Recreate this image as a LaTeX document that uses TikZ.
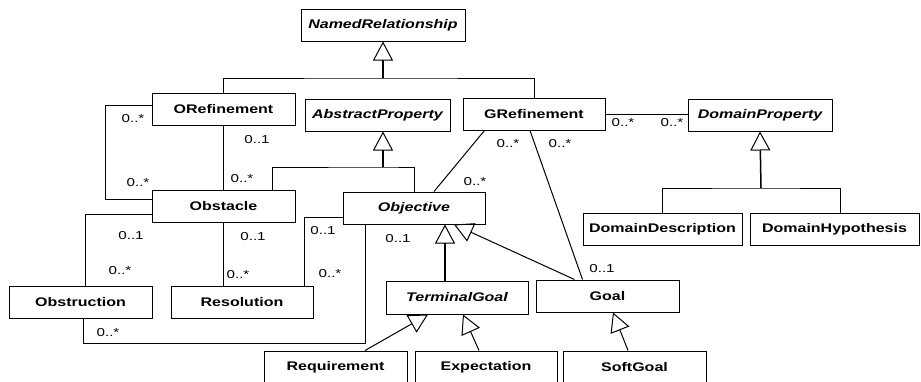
\documentclass[tikz,border=0pt]{standalone}
\usepackage{fontspec}
\usepackage{graphicx}
\setmainfont{Liberation Sans}
\usetikzlibrary{arrows.meta}
% class names and multiplicities are set slightly widened
\newcommand{\clsname}[1]{\scalebox{1.28}[1]{#1}}
\newcommand{\mlt}[1]{\scalebox{1.32}[1]{#1}}

\begin{document}
\begin{tikzpicture}[x=1pt,y=-1pt,
  cls/.style={draw=black, line width=1pt, fill=white, inner sep=0pt,
    minimum height=32pt, font=\fontsize{12.5}{14}\selectfont\bfseries},
  abs/.style={cls, font=\fontsize{12.5}{14}\selectfont\bfseries\itshape},
  lnk/.style={draw=black, line width=1pt},
  inh/.style={lnk, -{Triangle[open, length=19pt, width=20pt, line width=1pt]}},
  stem/.style={inh, line width=1.5pt},
  mult/.style={font=\fontsize{11.5}{13}\selectfont, inner sep=0pt},
]
\path[use as bounding box] (0,0) rectangle (921,381);
\clip (0,0) rectangle (921,381);
\fill[white] (0,0) rectangle (921,381);

% ---- classes ----
\node[abs, minimum width=164pt] (NR) at (383,25)   {\clsname{NamedRelationship}};
\node[cls, minimum width=143pt] (ORef) at (223.5,109) {\clsname{ORefinement}};
\node[abs, minimum width=145pt] (AP) at (377.5,115) {\clsname{AbstractProperty}};
\node[cls, minimum width=142pt] (GRef) at (534,114) {\clsname{GRefinement}};
\node[abs, minimum width=144pt] (DP) at (760,115) {\clsname{DomainProperty}};
\node[cls, minimum width=143pt] (Obstacle) at (223.5,206) {\clsname{Obstacle}};
\node[abs, minimum width=142pt] (Objective) at (414,208) {\clsname{Objective}};
\node[cls, minimum width=159pt] (DD) at (662.5,229) {\clsname{DomainDescription}};
\node[cls, minimum width=169pt] (DH) at (834.5,229) {\clsname{DomainHypothesis}};
\node[cls, minimum width=143pt] (Obstruction) at (80.5,302) {\clsname{Obstruction}};
\node[cls, minimum width=142pt] (Resolution) at (242,302) {\clsname{Resolution}};
\node[abs, minimum width=142pt, minimum height=33pt] (TG) at (457,297.5) {\clsname{TerminalGoal}};
\node[cls, minimum width=143pt] (Goal) at (607.5,296) {\clsname{Goal}};
\node[cls, minimum width=143pt] (Req) at (335.5,367) {\clsname{Requirement}};
\node[cls, minimum width=142pt] (Exp) at (486,367) {\clsname{Expectation}};
\node[cls, minimum width=143pt] (SG) at (634.5,367) {\clsname{SoftGoal}};

% ---- generalisation trunks ----
\coordinate (jNR) at (383,78);
\coordinate (jAP) at (383,167);
\coordinate (jDP) at (761,188);

\draw[stem] (jNR) -- (NR.south);
\draw[lnk] (ORef.north) |- (jNR) -| (GRef.north);

\draw[stem] (jAP) -- (jAP |- AP.south);
\draw[lnk] ([xshift=48.5pt]Obstacle.north) |- (jAP) -| (Objective.north);

\draw[stem] (jDP) -- (DP.south);
\draw[lnk] (DD.north) |- (jDP) -| ([xshift=6pt]DH.north);

\draw[stem] ([xshift=-12pt]TG.north) -- ([xshift=31pt]Objective.south);
\draw[inh] ([xshift=39pt]Goal.north west) -- ([xshift=40pt]Objective.south);
\draw[inh] ([xshift=29.5pt]Req.north) -- ([xshift=-29pt]TG.south);
\draw[inh] ([xshift=-7pt]Exp.north) -- ([xshift=6pt]TG.south);
\draw[inh] ([xshift=-6.5pt]SG.north) -- ([xshift=5.5pt]Goal.south);

% ---- associations ----
\draw[lnk] (ORef.south) -- (Obstacle.north);
\draw[lnk] ([yshift=4pt]ORef.west) -- ++(-46,0) |- ([yshift=7pt]Obstacle.west);
\draw[lnk] ([yshift=-8pt]Obstacle.west) -| ([xshift=4.5pt]Obstruction.north);
\draw[lnk] (Obstacle.south) -- (Obstacle.south |- Resolution.north);
\draw[lnk] ([yshift=-9pt]Objective.west) -| ([xshift=62pt]Resolution.north);
\draw[lnk] ([xshift=-49pt]Objective.south) -- ++(0,119) -| ([xshift=2.5pt]Obstruction.south);
\draw[lnk] ([xshift=22pt]GRef.south west) -- ([xshift=20pt]Objective.north);
\draw[lnk] ([xshift=-4pt]GRef.south) -- ([xshift=47pt]Goal.north west);
\draw[lnk] (GRef.east) -- (GRef.east -| DP.west);

% ---- multiplicities ----
\node[mult] (m1)  at (133,119) {\mlt{0..*}};
\node[mult] (m2)  at (138,183) {\mlt{0..*}};
\node[mult] (m3)  at (257,140) {\mlt{0..1}};
\node[mult] (m4)  at (242,179) {\mlt{0..*}};
\node[mult] (m5)  at (131,236) {\mlt{0..1}};
\node[mult] (m6)  at (120,271) {\mlt{0..*}};
\node[mult] (m7)  at (253,237) {\mlt{0..1}};
\node[mult] (m8)  at (238,275) {\mlt{0..*}};
\node[mult] (m9)  at (323,231) {\mlt{0..1}};
\node[mult] (m10) at (330,274) {\mlt{0..*}};
\node[mult] (m11) at (108,333) {\mlt{0..*}};
\node[mult] (m12) at (508,144) {\mlt{0..*}};
\node[mult] (m13) at (560,144) {\mlt{0..*}};
\node[mult] (m14) at (475,182) {\mlt{0..*}};
\node[mult] (m15) at (398,239) {\mlt{0..1}};
\node[mult] (m16) at (602,269) {\mlt{0..1}};
\node[mult] (m17) at (623,123) {\mlt{0..*}};
\node[mult] (m18) at (672,123) {\mlt{0..*}};
\end{tikzpicture}
\end{document}
